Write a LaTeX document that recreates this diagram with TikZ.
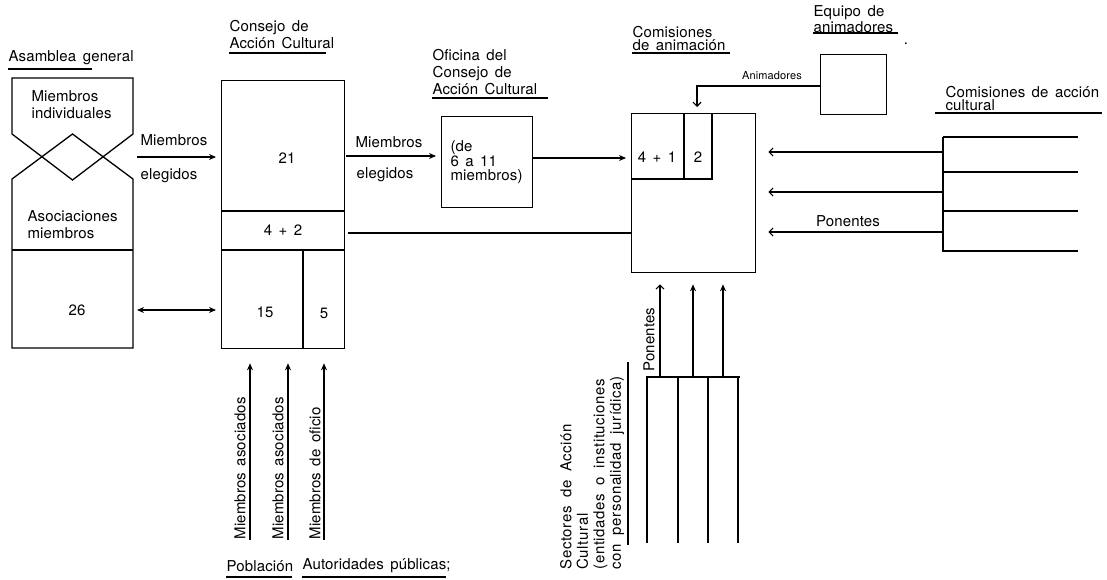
\documentclass[tikz,border=0pt]{standalone}
\usepackage{fontspec}
\setmainfont{TeX Gyre Heros}[LetterSpace=1,WordSpace=1.5]
\newfontfamily\sectfont{TeX Gyre Heros}[LetterSpace=4,WordSpace=1.8]
\usetikzlibrary{arrows.meta}
\begin{document}
\begin{tikzpicture}[x=1pt,y=-1pt,line width=1.1pt,
  txt/.style={inner sep=0pt,font=\fontsize{15}{17}\selectfont,align=left},
  tight/.style={inner sep=0pt,font=\fontsize{15}{13.5}\selectfont,align=left},
  small/.style={inner sep=0pt,font=\fontsize{11}{13}\selectfont},
  box/.style={draw,line width=1.3pt,inner sep=0pt,anchor=north west},
  arr/.style={-{Stealth[length=7pt,width=6pt]},line width=1.1pt},
  darr/.style={{Stealth[length=7pt,width=6pt]}-{Stealth[length=7pt,width=6pt]},line width=1.1pt},
  oarr/.style={-{Straight Barb[length=4pt,width=8pt]},line width=1.1pt},
  uline/.style={line width=1.3pt}]
\useasboundingbox (0,0) rectangle (1107,579);

% ---------- Asamblea general ----------
\node[txt,anchor=west] (asmlbl) at (8,58) {Asamblea general};
\draw[uline] (8,69) -- (92,69);
\draw[line width=1.3pt] (12,78) -- (133,78) -- (133,134) -- (72.5,180) -- (12,134) -- cycle;
\draw[line width=1.3pt] (72.5,134) -- (133,179) -- (133,348) -- (12,348) -- (12,179) -- cycle;
\draw[line width=1.3pt] (12,250) -- (133,250);
\node[txt,anchor=north west] (mind) at (31,90) {Miembros\\individuales};
\node[txt,anchor=north west] (asoc) at (27,210.5) {Asociaciones\\miembros};
\node[txt] (n26) at (77,310) {26};
\coordinate (asmA) at (137,157);
\coordinate (asmB) at (137,310);

% ---------- Consejo de Accion Cultural ----------
\node[txt,anchor=north west] (conlbl) at (229,19.5) {Consejo de\\Acción Cultural};
\draw[uline] (229,53) -- (326,53);
\node[box,minimum width=123pt,minimum height=268pt] (consejo) at (221,80) {};
\draw[line width=1.3pt] (221,211) -- (344,211);
\draw[line width=1.3pt] (221,250) -- (344,250);
\draw[line width=1.3pt] (303,250) -- (303,348);
\node[txt] (n21) at (287,158) {21};
\node[txt] (n42) at (283,230) {4 + 2};
\node[txt] (n15) at (265,312) {15};
\node[txt] (n5) at (324,313) {5};

\draw[arr,shorten >=5pt] (asmA) -- (asmA -| consejo.west);
\node[txt,anchor=west] (me1) at (140,140) {Miembros};
\node[txt,anchor=west] (el1) at (140,176) {elegidos};
\draw[darr,shorten >=5pt] (asmB) -- (asmB -| consejo.west);

% bottom arrows of Consejo
\coordinate (p1) at (250,540);
\coordinate (p2) at (288,540);
\coordinate (p3) at (324,540);
\draw[arr,shorten >=14pt] (p1) -- (p1 |- consejo.south);
\draw[arr,shorten >=14pt] (p2) -- (p2 |- consejo.south);
\draw[arr,shorten >=14pt] (p3) -- (p3 |- consejo.south);
\node[txt,rotate=90,anchor=west] (ma1) at (240,540) {Miembros asociados};
\node[txt,rotate=90,anchor=west] (ma2) at (278,540) {Miembros asociados};
\node[txt,rotate=90,anchor=west] (mo) at (315,540) {Miembros de oficio};
\node[txt,anchor=west] (pob) at (226,566) {Población};
\draw[uline] (226,577) -- (292,577);
\node[txt,anchor=west] (aut) at (302,566) {Autoridades públicas;};
\draw[uline] (302,577) -- (446,577);

% ---------- Oficina ----------
\node[txt,anchor=north west] (oflbl) at (432,48.5) {Oficina del\\Consejo de\\Acción Cultural};
\draw[uline] (432,98) -- (548,98);
\node[box,minimum width=91pt,minimum height=91pt] (oficina) at (441,116) {};
\node[tight,anchor=north west] (oftxt) at (450,140.5) {(de\\6 a 11\\miembros)};
\coordinate (cA) at (346,156);
\draw[arr,shorten >=5pt] (cA) -- (cA -| oficina.west);
\node[txt,anchor=west] (me2) at (355,142) {Miembros};
\node[txt,anchor=west] (el2) at (356,175) {elegidos};

% ---------- Comisiones de animacion ----------
\node[tight,anchor=north west] (calbl) at (632,25.5) {Comisiones\\de animación};
\draw[uline] (632,53) -- (730,53);
\node[box,minimum width=124pt,minimum height=159pt] (comis) at (631,113) {};
\draw[line width=1.3pt] (631,179) -- (712,179) -- (712,113);
\draw[line width=1.3pt] (684,113) -- (684,179);
\node[txt] (n41) at (657,157) {4 + 1};
\node[txt] (n2) at (698,157) {2};

\coordinate (oA) at (532,158);
\draw[arr,shorten >=5pt] (oA) -- (oA -| comis.west);
\coordinate (cB) at (348,233);
\draw[line width=1.1pt] (cB) -- (cB -| comis.west);

% ---------- Equipo de animadores ----------
\node[tight,anchor=north west] (eqlbl) at (813,5.5) {Equipo de\\animadores};
\draw[uline] (813,33) -- (898,33);
\node[txt,anchor=base] (dot) at (906,44) {.};
\node[box,minimum width=66pt,minimum height=60pt] (equipo) at (820,54) {};
\coordinate (eA) at (820,86);
\coordinate (eB) at (697,86);
\draw[oarr,shorten >=6pt] (eA) -- (eB) -- (eB |- comis.north);
\node[small] (anim) at (772,76) {Animadores};

% ---------- Comisiones de accion cultural ----------
\node[tight,anchor=north west] (cclbl) at (945,85.5) {Comisiones de acción\\cultural};
\draw[uline] (935,113) -- (1102,113);
\coordinate (r0) at (943,137);
\coordinate (r4) at (943,252);
\draw[line width=1.2pt] (r0) -- (r4);
\draw[line width=1.1pt] (943,137) -- (1078,137);
\draw[line width=1.1pt] (943,172) -- (1078,172);
\draw[line width=1.1pt] (943,211) -- (1078,211);
\draw[line width=1.1pt] (943,251) -- (1078,251);
\coordinate (q1) at (943,152);
\coordinate (q2) at (943,192);
\coordinate (q3) at (943,232);
\draw[oarr,shorten >=12pt] (q1) -- (q1 -| comis.east);
\draw[oarr,shorten >=12pt] (q2) -- (q2 -| comis.east);
\draw[oarr,shorten >=12pt] (q3) -- (q3 -| comis.east);
\node[txt] (pon1) at (848,221) {Ponentes};

% ---------- Sectores ----------
\coordinate (s1) at (660,377);
\coordinate (s2) at (693,377);
\coordinate (s3) at (723,377);
\draw[oarr,shorten >=11pt] (s1) -- (s1 |- comis.south);
\draw[arr,shorten >=11pt] (s2) -- (s2 |- comis.south);
\draw[arr,shorten >=11pt] (s3) -- (s3 |- comis.south);
\draw[line width=1.2pt] (647,543) -- (647,377) -- (740,377);
\draw[line width=1.1pt] (678,377) -- (678,543);
\draw[line width=1.1pt] (708,377) -- (708,543);
\draw[line width=1.1pt] (738,377) -- (738,543);
\node[txt,rotate=90,anchor=west] (pon2) at (649,372) {Ponentes};
\node[txt,rotate=90,anchor=north west,font=\sectfont\fontsize{15}{16.5}\selectfont] (sect) at (559.5,570) {Sectores de Acción\\Cultural\\(entidades o instituciones\\con personalidad jurídica)};
\draw[uline] (628,362) -- (628,545);
\end{tikzpicture}
\end{document}
